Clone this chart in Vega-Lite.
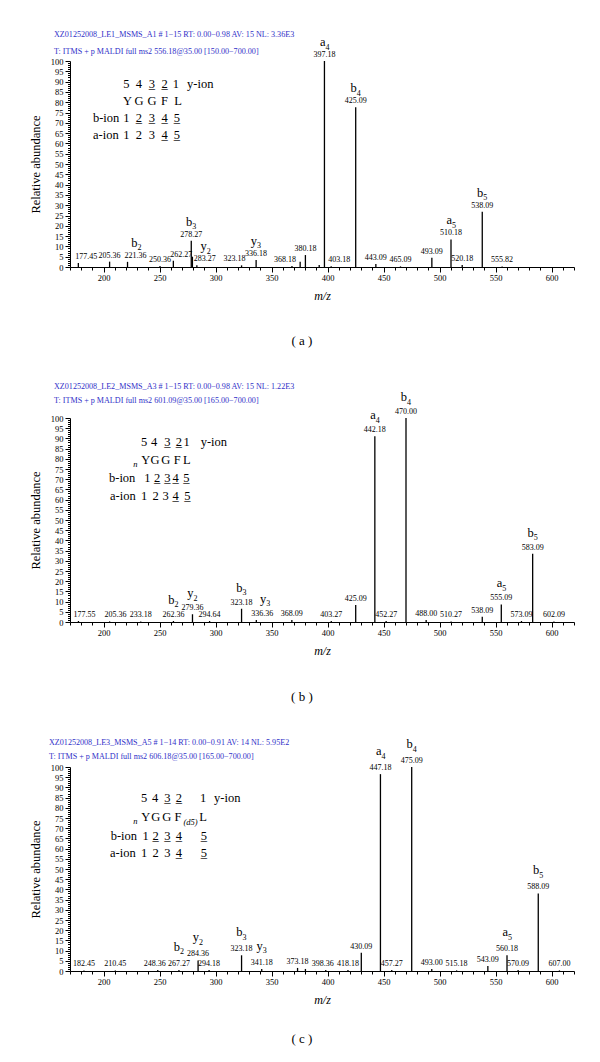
{
  "$schema": "https://vega.github.io/schema/vega-lite/v6.json",
  "padding": {"left": 29, "top": 30, "right": 5, "bottom": 0},
  "background": "white",
  "config": {
    "font": "Liberation Serif",
    "view": {"stroke": null},
    "title": {"font": "Liberation Serif", "subtitleFont": "Liberation Serif", "fontWeight": "normal", "color": "black"},
    "axis": {
      "domainColor": "black", "tickColor": "black", "labelColor": "black", "titleColor": "black",
      "labelFont": "Liberation Serif", "titleFont": "Liberation Serif", "titleFontWeight": "normal",
      "labelFontSize": 8.5, "grid": false, "labelOverlap": false, "labelFlush": false
    },
    "text": {"font": "Liberation Serif", "color": "black"}
  },
  "spacing": 34,
  "datasets": {
    "peaksA": [
      {"mz": 177.45, "ab": 2, "label": "177.45"},
      {"mz": 205.36, "ab": 2.6, "label": "205.36"},
      {"mz": 221.36, "ab": 2.5, "label": "221.36", "ion": "b", "n": "2"},
      {"mz": 250.36, "ab": 0.5, "label": "250.36"},
      {"mz": 262.27, "ab": 3, "label": "262.27"},
      {"mz": 278.27, "ab": 12.8, "label": "278.27", "ion": "b", "n": "3"},
      {"mz": 279.3, "ab": 5},
      {"mz": 283.27, "ab": 0.8, "label": "283.27", "ion": "y", "n": "2"},
      {"mz": 323.18, "ab": 0.8, "label": "323.18"},
      {"mz": 336.18, "ab": 3.4, "label": "336.18", "ion": "y", "n": "3"},
      {"mz": 368.18, "ab": 0.5, "label": "368.18"},
      {"mz": 375.5, "ab": 2.5},
      {"mz": 380.18, "ab": 5.8, "label": "380.18"},
      {"mz": 392.5, "ab": 1},
      {"mz": 397.18, "ab": 100, "label": "397.18", "ion": "a", "n": "4"},
      {"mz": 403.18, "ab": 0.4, "label": "403.18"},
      {"mz": 425.09, "ab": 77.5, "label": "425.09", "ion": "b", "n": "4"},
      {"mz": 443.09, "ab": 1.5, "label": "443.09"},
      {"mz": 465.09, "ab": 0.3, "label": "465.09"},
      {"mz": 493.09, "ab": 4.5, "label": "493.09"},
      {"mz": 510.18, "ab": 13.4, "label": "510.18", "ion": "a", "n": "5"},
      {"mz": 520.18, "ab": 1, "label": "520.18"},
      {"mz": 538.09, "ab": 26.8, "label": "538.09", "ion": "b", "n": "5"},
      {"mz": 555.82, "ab": 0.3, "label": "555.82"}
    ],
    "peaksB": [
      {"mz": 177.55, "ab": 0.5, "label": "177.55"},
      {"mz": 205.36, "ab": 0.3, "label": "205.36"},
      {"mz": 233.18, "ab": 0.3, "label": "233.18"},
      {"mz": 262.36, "ab": 0.5, "label": "262.36", "ion": "b", "n": "2"},
      {"mz": 279.36, "ab": 3.8, "label": "279.36", "ion": "y", "n": "2"},
      {"mz": 294.64, "ab": 0.5, "label": "294.64"},
      {"mz": 323.18, "ab": 6.5, "label": "323.18", "ion": "b", "n": "3"},
      {"mz": 336.36, "ab": 1, "label": "336.36", "ion": "y", "n": "3"},
      {"mz": 368.09, "ab": 1, "label": "368.09"},
      {"mz": 403.27, "ab": 0.5, "label": "403.27"},
      {"mz": 425.09, "ab": 8.3, "label": "425.09"},
      {"mz": 442.18, "ab": 91, "label": "442.18", "ion": "a", "n": "4"},
      {"mz": 452.27, "ab": 0.5, "label": "452.27"},
      {"mz": 470.0, "ab": 100, "label": "470.00", "ion": "b", "n": "4"},
      {"mz": 488.0, "ab": 1, "label": "488.00"},
      {"mz": 510.27, "ab": 0.3, "label": "510.27"},
      {"mz": 538.09, "ab": 2.6, "label": "538.09"},
      {"mz": 555.09, "ab": 8.6, "label": "555.09", "ion": "a", "n": "5"},
      {"mz": 573.09, "ab": 0.5, "label": "573.09"},
      {"mz": 583.09, "ab": 33.4, "label": "583.09", "ion": "b", "n": "5"},
      {"mz": 602.09, "ab": 0.3, "label": "602.09"}
    ],
    "peaksC": [
      {"mz": 182.45, "ab": 0.3, "label": "182.45"},
      {"mz": 210.45, "ab": 0.3, "label": "210.45"},
      {"mz": 248.36, "ab": 0.5, "label": "248.36"},
      {"mz": 267.27, "ab": 0.5, "label": "267.27", "ion": "b", "n": "2"},
      {"mz": 284.36, "ab": 5.2, "label": "284.36", "ion": "y", "n": "2"},
      {"mz": 294.18, "ab": 0.5, "label": "294.18"},
      {"mz": 323.18, "ab": 7.7, "label": "323.18", "ion": "b", "n": "3"},
      {"mz": 341.18, "ab": 1, "label": "341.18", "ion": "y", "n": "3"},
      {"mz": 373.18, "ab": 1.5, "label": "373.18"},
      {"mz": 380.2, "ab": 1},
      {"mz": 398.36, "ab": 0.5, "label": "398.36"},
      {"mz": 418.18, "ab": 0.5, "label": "418.18"},
      {"mz": 430.09, "ab": 9, "label": "430.09"},
      {"mz": 447.18, "ab": 96.5, "label": "447.18", "ion": "a", "n": "4"},
      {"mz": 457.27, "ab": 0.5, "label": "457.27"},
      {"mz": 475.09, "ab": 100, "label": "475.09", "ion": "b", "n": "4"},
      {"mz": 493.0, "ab": 1, "label": "493.00"},
      {"mz": 515.18, "ab": 0.3, "label": "515.18"},
      {"mz": 543.09, "ab": 2.5, "label": "543.09"},
      {"mz": 560.18, "ab": 7.7, "label": "560.18", "ion": "a", "n": "5"},
      {"mz": 570.09, "ab": 0.5, "label": "570.09"},
      {"mz": 588.09, "ab": 38, "label": "588.09", "ion": "b", "n": "5"},
      {"mz": 607.0, "ab": 0.3, "label": "607.00"}
    ],
    "noiseA": [
      {"mz": 174.5, "mz2": 181.6}, {"mz": 220, "mz2": 236}, {"mz": 249.5, "mz2": 254.8},
      {"mz": 282.5, "mz2": 296}, {"mz": 318, "mz2": 327}, {"mz": 364.6, "mz2": 371}, {"mz": 403, "mz2": 410}
    ],
    "noiseB": [{"mz": 178, "mz2": 184}, {"mz": 573.6, "mz2": 578}],
    "noiseC": [{"mz": 243, "mz2": 248}, {"mz": 296, "mz2": 300}, {"mz": 392, "mz2": 397}, {"mz": 414.6, "mz2": 417}, {"mz": 569, "mz2": 573}],
    "chA": [
      {"mz": 220.4, "ab": 88.8, "text": "5"}, {"mz": 231.6, "ab": 88.8, "text": "4"}, {"mz": 243.2, "ab": 88.8, "text": "3"}, {"mz": 254.4, "ab": 88.8, "text": "2"}, {"mz": 264.6, "ab": 88.8, "text": "1"},
      {"mz": 243.2, "ab": 88.8, "text": "_"}, {"mz": 254.4, "ab": 88.8, "text": "_"},
      {"mz": 221.3, "ab": 80.6, "text": "Y"}, {"mz": 231.6, "ab": 80.6, "text": "G"}, {"mz": 243.2, "ab": 80.6, "text": "G"}, {"mz": 254.4, "ab": 80.6, "text": "F"}, {"mz": 266.4, "ab": 80.6, "text": "L"},
      {"mz": 220.4, "ab": 72.3, "text": "1"}, {"mz": 231.6, "ab": 72.3, "text": "2"}, {"mz": 243.2, "ab": 72.3, "text": "3"}, {"mz": 254.4, "ab": 72.3, "text": "4"}, {"mz": 265.5, "ab": 72.3, "text": "5"},
      {"mz": 231.6, "ab": 72.3, "text": "_"}, {"mz": 243.2, "ab": 72.3, "text": "_"}, {"mz": 254.4, "ab": 72.3, "text": "_"}, {"mz": 265.5, "ab": 72.3, "text": "_"},
      {"mz": 220.4, "ab": 64.1, "text": "1"}, {"mz": 231.6, "ab": 64.1, "text": "2"}, {"mz": 243.2, "ab": 64.1, "text": "3"}, {"mz": 254.4, "ab": 64.1, "text": "4"}, {"mz": 265.5, "ab": 64.1, "text": "5"},
      {"mz": 254.4, "ab": 64.1, "text": "_"}, {"mz": 265.5, "ab": 64.1, "text": "_"}
    ],
    "lbA": [
      {"mz": 274.5, "ab": 88.8, "text": "y-ion"},
      {"mz": 190.5, "ab": 72.3, "text": "b-ion"},
      {"mz": 190.5, "ab": 64.1, "text": "a-ion"}
    ],
    "chB": [
      {"mz": 236.1, "ab": 88.3, "text": "5"}, {"mz": 245.0, "ab": 88.3, "text": "4"}, {"mz": 256.9, "ab": 88.3, "text": "3"}, {"mz": 267.3, "ab": 88.3, "text": "2"}, {"mz": 274.2, "ab": 88.3, "text": "1"},
      {"mz": 256.9, "ab": 88.3, "text": "_"}, {"mz": 267.3, "ab": 88.3, "text": "_"},
      {"mz": 237.6, "ab": 79.6, "text": "Y"}, {"mz": 245.9, "ab": 79.6, "text": "G"}, {"mz": 255.4, "ab": 79.6, "text": "G"}, {"mz": 265.8, "ab": 79.6, "text": "F"}, {"mz": 274.2, "ab": 79.6, "text": "L"},
      {"mz": 239.0, "ab": 70.6, "text": "1"}, {"mz": 247.9, "ab": 70.6, "text": "2"}, {"mz": 256.9, "ab": 70.6, "text": "3"}, {"mz": 264.4, "ab": 70.6, "text": "4"}, {"mz": 273.8, "ab": 70.6, "text": "5"},
      {"mz": 247.9, "ab": 70.6, "text": "_"}, {"mz": 256.9, "ab": 70.6, "text": "_"}, {"mz": 264.4, "ab": 70.6, "text": "_"}, {"mz": 273.8, "ab": 70.6, "text": "_"},
      {"mz": 236.1, "ab": 61.7, "text": "1"}, {"mz": 246.5, "ab": 61.7, "text": "2"}, {"mz": 255.4, "ab": 61.7, "text": "3"}, {"mz": 264.4, "ab": 61.7, "text": "4"}, {"mz": 274.7, "ab": 61.7, "text": "5"},
      {"mz": 264.4, "ab": 61.7, "text": "_"}, {"mz": 274.7, "ab": 61.7, "text": "_"}
    ],
    "lbB": [
      {"mz": 286.7, "ab": 88.3, "text": "y-ion"},
      {"mz": 204.8, "ab": 70.6, "text": "b-ion"},
      {"mz": 205.7, "ab": 61.7, "text": "a-ion"}
    ],
    "subB": [{"mz": 226.5, "ab": 77.3, "text": "n"}],
    "chC": [
      {"mz": 236.1, "ab": 84.8, "text": "5"}, {"mz": 245.9, "ab": 84.8, "text": "4"}, {"mz": 256.9, "ab": 84.8, "text": "3"}, {"mz": 267.3, "ab": 84.8, "text": "2"}, {"mz": 288.75, "ab": 84.8, "text": "1"},
      {"mz": 256.9, "ab": 84.8, "text": "_"}, {"mz": 267.3, "ab": 84.8, "text": "_"},
      {"mz": 237.6, "ab": 75.6, "text": "Y"}, {"mz": 246.5, "ab": 75.6, "text": "G"}, {"mz": 256.3, "ab": 75.6, "text": "G"}, {"mz": 266.3, "ab": 75.6, "text": "F"}, {"mz": 288.75, "ab": 75.6, "text": "L"},
      {"mz": 237.6, "ab": 66.3, "text": "1"}, {"mz": 246.5, "ab": 66.3, "text": "2"}, {"mz": 256.9, "ab": 66.3, "text": "3"}, {"mz": 267.3, "ab": 66.3, "text": "4"}, {"mz": 289.6, "ab": 66.3, "text": "5"},
      {"mz": 246.5, "ab": 66.3, "text": "_"}, {"mz": 256.9, "ab": 66.3, "text": "_"}, {"mz": 267.3, "ab": 66.3, "text": "_"}, {"mz": 289.6, "ab": 66.3, "text": "_"},
      {"mz": 236.1, "ab": 57.8, "text": "1"}, {"mz": 246.5, "ab": 57.8, "text": "2"}, {"mz": 256.9, "ab": 57.8, "text": "3"}, {"mz": 267.3, "ab": 57.8, "text": "4"}, {"mz": 289.6, "ab": 57.8, "text": "5"},
      {"mz": 267.3, "ab": 57.8, "text": "_"}, {"mz": 289.6, "ab": 57.8, "text": "_"}
    ],
    "lbC": [
      {"mz": 298.6, "ab": 84.8, "text": "y-ion"},
      {"mz": 206.3, "ab": 66.3, "text": "b-ion"},
      {"mz": 205.7, "ab": 57.8, "text": "a-ion"}
    ],
    "subC": [{"mz": 226.5, "ab": 73.4, "text": "n"}, {"mz": 271.3, "ab": 73.2, "text": "(d5)"}]
  },
  "vconcat": [
    {
      "title": {"text": "( a )", "orient": "bottom", "anchor": "middle", "fontSize": 13, "offset": 33},
      "vconcat": [
        {
          "width": 504, "height": 206,
          "title": {"text": "XZ01252008_LE1_MSMS_A1 # 1−15 RT: 0.00−0.98 AV: 15 NL: 3.36E3", "subtitle": "T: ITMS + p MALDI full ms2 556.18@35.00 [150.00−700.00]", "anchor": "start", "frame": "group", "dx": -16, "offset": -20, "fontSize": 8.1, "subtitleFontSize": 8.1, "color": "#3030c8", "subtitleColor": "#3030c8", "subtitlePadding": 9},
          "encoding": {
            "x": {"field": "mz", "type": "quantitative", "scale": {"domain": [170, 620], "nice": false, "zero": false},
              "axis": {"title": "m/z", "titleFontStyle": "italic", "titleFontSize": 12, "titlePadding": 9, "values": [170,180,190,200,210,220,230,240,250,260,270,280,290,300,310,320,330,340,350,360,370,380,390,400,410,420,430,440,450,460,470,480,490,500,510,520,530,540,550,560,570,580,590,600,610,620], "labelExpr": "datum.value % 50 === 0 ? datum.label : ''", "tickSize": {"condition": {"test": "datum.value % 50 === 0", "value": 5}, "value": 3}, "labelPadding": 1}},
            "y": {"field": "ab", "type": "quantitative", "scale": {"domain": [0, 100], "nice": false},
              "axis": {"title": "Relative abundance", "titleFontSize": 12.5, "titlePadding": 8, "values": [0,1,2,3,4,5,6,7,8,9,10,11,12,13,14,15,16,17,18,19,20,21,22,23,24,25,26,27,28,29,30,31,32,33,34,35,36,37,38,39,40,41,42,43,44,45,46,47,48,49,50,51,52,53,54,55,56,57,58,59,60,61,62,63,64,65,66,67,68,69,70,71,72,73,74,75,76,77,78,79,80,81,82,83,84,85,86,87,88,89,90,91,92,93,94,95,96,97,98,99,100], "labelExpr": "datum.value % 5 === 0 ? datum.label : ''", "tickSize": {"condition": {"test": "datum.value % 5 === 0", "value": 5}, "value": 2.5}, "labelPadding": 2}}
          },
          "layer": [
            {"data": {"name": "noiseA"}, "mark": {"type": "rule", "color": "#7ccf3a", "strokeWidth": 2}, "encoding": {"x2": {"field": "mz2"}, "y": {"datum": 0.8}}},
            {"data": {"name": "peaksA"}, "mark": {"type": "rule", "color": "black", "strokeWidth": 1.3}, "encoding": {"y2": {"datum": 0}}},
            {"data": {"name": "peaksA"}, "transform": [{"filter": "datum.label != null && indexof(['177.45','221.36','262.27','283.27','403.18','323.18','368.18'], datum.label) < 0"}], "mark": {"type": "text", "fontSize": 8, "baseline": "bottom", "dy": -2}, "encoding": {"text": {"field": "label"}}},
            {"data": {"name": "peaksA"}, "transform": [{"filter": "indexof(['177.45','221.36','262.27','283.27','403.18'], datum.label) >= 0"}], "mark": {"type": "text", "fontSize": 8, "baseline": "bottom", "dy": -2, "dx": 8}, "encoding": {"text": {"field": "label"}}},
            {"data": {"name": "peaksA"}, "transform": [{"filter": "indexof(['323.18','368.18'], datum.label) >= 0"}], "mark": {"type": "text", "fontSize": 8, "baseline": "bottom", "dy": -2, "dx": -7}, "encoding": {"text": {"field": "label"}}},
            {"data": {"name": "peaksA"}, "transform": [{"filter": "datum.ion != null && indexof(['221.36','283.27'], datum.label) < 0"}], "mark": {"type": "text", "fontSize": 12.5, "baseline": "bottom", "align": "right", "dx": 1, "dy": -12}, "encoding": {"text": {"field": "ion"}}},
            {"data": {"name": "peaksA"}, "transform": [{"filter": "datum.ion != null && indexof(['221.36','283.27'], datum.label) < 0"}], "mark": {"type": "text", "fontSize": 8, "baseline": "bottom", "align": "left", "dx": 1, "dy": -9.5}, "encoding": {"text": {"field": "n"}}},
            {"data": {"name": "peaksA"}, "transform": [{"filter": "indexof(['221.36','283.27'], datum.label) >= 0"}], "mark": {"type": "text", "fontSize": 12.5, "baseline": "bottom", "align": "right", "dx": 10, "dy": -12}, "encoding": {"text": {"field": "ion"}}},
            {"data": {"name": "peaksA"}, "transform": [{"filter": "indexof(['221.36','283.27'], datum.label) >= 0"}], "mark": {"type": "text", "fontSize": 8, "baseline": "bottom", "align": "left", "dx": 10, "dy": -9.5}, "encoding": {"text": {"field": "n"}}},
            {"data": {"name": "chA"}, "mark": {"type": "text", "fontSize": 12.5, "align": "center", "baseline": "middle"}, "encoding": {"text": {"field": "text"}}},
            {"data": {"name": "lbA"}, "mark": {"type": "text", "fontSize": 12.5, "align": "left", "baseline": "middle"}, "encoding": {"text": {"field": "text"}}}
          ]
        }
      ]
    },
    {
      "title": {"text": "( b )", "orient": "bottom", "anchor": "middle", "fontSize": 13, "offset": 34},
      "vconcat": [
        {
          "width": 504, "height": 204,
          "title": {"text": "XZ01252008_LE2_MSMS_A3 # 1−15 RT: 0.00−0.98 AV: 15 NL: 1.22E3", "subtitle": "T: ITMS + p MALDI full ms2 601.09@35.00 [165.00−700.00]", "anchor": "start", "frame": "group", "dx": -16, "offset": -14, "fontSize": 8.1, "subtitleFontSize": 8.1, "color": "#3030c8", "subtitleColor": "#3030c8", "subtitlePadding": 6},
          "encoding": {
            "x": {"field": "mz", "type": "quantitative", "scale": {"domain": [170, 620], "nice": false, "zero": false},
              "axis": {"title": "m/z", "titleFontStyle": "italic", "titleFontSize": 12, "titlePadding": 9, "values": [170,180,190,200,210,220,230,240,250,260,270,280,290,300,310,320,330,340,350,360,370,380,390,400,410,420,430,440,450,460,470,480,490,500,510,520,530,540,550,560,570,580,590,600,610,620], "labelExpr": "datum.value % 50 === 0 ? datum.label : ''", "tickSize": {"condition": {"test": "datum.value % 50 === 0", "value": 5}, "value": 3}, "labelPadding": 1}},
            "y": {"field": "ab", "type": "quantitative", "scale": {"domain": [0, 100], "nice": false},
              "axis": {"title": "Relative abundance", "titleFontSize": 12.5, "titlePadding": 8, "values": [0,1,2,3,4,5,6,7,8,9,10,11,12,13,14,15,16,17,18,19,20,21,22,23,24,25,26,27,28,29,30,31,32,33,34,35,36,37,38,39,40,41,42,43,44,45,46,47,48,49,50,51,52,53,54,55,56,57,58,59,60,61,62,63,64,65,66,67,68,69,70,71,72,73,74,75,76,77,78,79,80,81,82,83,84,85,86,87,88,89,90,91,92,93,94,95,96,97,98,99,100], "labelExpr": "datum.value % 5 === 0 ? datum.label : ''", "tickSize": {"condition": {"test": "datum.value % 5 === 0", "value": 5}, "value": 2.5}, "labelPadding": 2}}
          },
          "layer": [
            {"data": {"name": "noiseB"}, "mark": {"type": "rule", "color": "#7ccf3a", "strokeWidth": 2}, "encoding": {"x2": {"field": "mz2"}, "y": {"datum": 0.8}}},
            {"data": {"name": "peaksB"}, "mark": {"type": "rule", "color": "black", "strokeWidth": 1.3}, "encoding": {"y2": {"datum": 0}}},
            {"data": {"name": "peaksB"}, "transform": [{"filter": "datum.label != null && indexof(['177.55','205.36','336.36'], datum.label) < 0"}], "mark": {"type": "text", "fontSize": 8, "baseline": "bottom", "dy": -2}, "encoding": {"text": {"field": "label"}}},
            {"data": {"name": "peaksB"}, "transform": [{"filter": "indexof(['177.55','205.36','336.36'], datum.label) >= 0"}], "mark": {"type": "text", "fontSize": 8, "baseline": "bottom", "dy": -2, "dx": 6}, "encoding": {"text": {"field": "label"}}},
            {"data": {"name": "peaksB"}, "transform": [{"filter": "datum.ion != null && datum.label != '336.36'"}], "mark": {"type": "text", "fontSize": 12.5, "baseline": "bottom", "align": "right", "dx": 1, "dy": -14}, "encoding": {"text": {"field": "ion"}}},
            {"data": {"name": "peaksB"}, "transform": [{"filter": "datum.ion != null && datum.label != '336.36'"}], "mark": {"type": "text", "fontSize": 8, "baseline": "bottom", "align": "left", "dx": 1, "dy": -11.5}, "encoding": {"text": {"field": "n"}}},
            {"data": {"name": "peaksB"}, "transform": [{"filter": "datum.label == '336.36'"}], "mark": {"type": "text", "fontSize": 12.5, "baseline": "bottom", "align": "right", "dx": 10, "dy": -14}, "encoding": {"text": {"field": "ion"}}},
            {"data": {"name": "peaksB"}, "transform": [{"filter": "datum.label == '336.36'"}], "mark": {"type": "text", "fontSize": 8, "baseline": "bottom", "align": "left", "dx": 10, "dy": -11.5}, "encoding": {"text": {"field": "n"}}},
            {"data": {"name": "chB"}, "mark": {"type": "text", "fontSize": 12.5, "align": "center", "baseline": "middle"}, "encoding": {"text": {"field": "text"}}},
            {"data": {"name": "lbB"}, "mark": {"type": "text", "fontSize": 12.5, "align": "left", "baseline": "middle"}, "encoding": {"text": {"field": "text"}}},
            {"data": {"name": "subB"}, "mark": {"type": "text", "fontSize": 8.5, "fontStyle": "italic", "align": "left", "baseline": "middle"}, "encoding": {"text": {"field": "text"}}}
          ]
        }
      ]
    },
    {
      "title": {"text": "( c )", "orient": "bottom", "anchor": "middle", "fontSize": 13, "offset": 27},
      "vconcat": [
        {
          "width": 504, "height": 204,
          "title": {"text": "XZ01252008_LE3_MSMS_A5 # 1−14 RT: 0.00−0.91 AV: 14 NL: 5.95E2", "subtitle": "T: ITMS + p MALDI full ms2 606.18@35.00 [165.00−700.00]", "anchor": "start", "frame": "group", "dx": -21, "offset": -23, "fontSize": 8.1, "subtitleFontSize": 8.1, "color": "#3030c8", "subtitleColor": "#3030c8", "subtitlePadding": 6},
          "encoding": {
            "x": {"field": "mz", "type": "quantitative", "scale": {"domain": [170, 620], "nice": false, "zero": false},
              "axis": {"title": "m/z", "titleFontStyle": "italic", "titleFontSize": 12, "titlePadding": 9, "values": [170,180,190,200,210,220,230,240,250,260,270,280,290,300,310,320,330,340,350,360,370,380,390,400,410,420,430,440,450,460,470,480,490,500,510,520,530,540,550,560,570,580,590,600,610,620], "labelExpr": "datum.value % 50 === 0 ? datum.label : ''", "tickSize": {"condition": {"test": "datum.value % 50 === 0", "value": 5}, "value": 3}, "labelPadding": 1}},
            "y": {"field": "ab", "type": "quantitative", "scale": {"domain": [0, 100], "nice": false},
              "axis": {"title": "Relative abundance", "titleFontSize": 12.5, "titlePadding": 8, "values": [0,1,2,3,4,5,6,7,8,9,10,11,12,13,14,15,16,17,18,19,20,21,22,23,24,25,26,27,28,29,30,31,32,33,34,35,36,37,38,39,40,41,42,43,44,45,46,47,48,49,50,51,52,53,54,55,56,57,58,59,60,61,62,63,64,65,66,67,68,69,70,71,72,73,74,75,76,77,78,79,80,81,82,83,84,85,86,87,88,89,90,91,92,93,94,95,96,97,98,99,100], "labelExpr": "datum.value % 5 === 0 ? datum.label : ''", "tickSize": {"condition": {"test": "datum.value % 5 === 0", "value": 5}, "value": 2.5}, "labelPadding": 2}}
          },
          "layer": [
            {"data": {"name": "noiseC"}, "mark": {"type": "rule", "color": "#7ccf3a", "strokeWidth": 2}, "encoding": {"x2": {"field": "mz2"}, "y": {"datum": 0.8}}},
            {"data": {"name": "peaksC"}, "mark": {"type": "rule", "color": "black", "strokeWidth": 1.3}, "encoding": {"y2": {"datum": 0}}},
            {"data": {"name": "peaksC"}, "transform": [{"filter": "datum.label != null && indexof(['248.36','398.36'], datum.label) < 0"}], "mark": {"type": "text", "fontSize": 8, "baseline": "bottom", "dy": -2}, "encoding": {"text": {"field": "label"}}},
            {"data": {"name": "peaksC"}, "transform": [{"filter": "indexof(['248.36','398.36'], datum.label) >= 0"}], "mark": {"type": "text", "fontSize": 8, "baseline": "bottom", "dy": -2, "dx": -3}, "encoding": {"text": {"field": "label"}}},
            {"data": {"name": "peaksC"}, "transform": [{"filter": "datum.ion != null"}], "mark": {"type": "text", "fontSize": 12.5, "baseline": "bottom", "align": "right", "dx": 1, "dy": -16}, "encoding": {"text": {"field": "ion"}}},
            {"data": {"name": "peaksC"}, "transform": [{"filter": "datum.ion != null"}], "mark": {"type": "text", "fontSize": 8, "baseline": "bottom", "align": "left", "dx": 1, "dy": -13.5}, "encoding": {"text": {"field": "n"}}},
            {"data": {"name": "chC"}, "mark": {"type": "text", "fontSize": 12.5, "align": "center", "baseline": "middle"}, "encoding": {"text": {"field": "text"}}},
            {"data": {"name": "lbC"}, "mark": {"type": "text", "fontSize": 12.5, "align": "left", "baseline": "middle"}, "encoding": {"text": {"field": "text"}}},
            {"data": {"name": "subC"}, "mark": {"type": "text", "fontSize": 8.5, "fontStyle": "italic", "align": "left", "baseline": "middle"}, "encoding": {"text": {"field": "text"}}}
          ]
        }
      ]
    }
  ]
}
